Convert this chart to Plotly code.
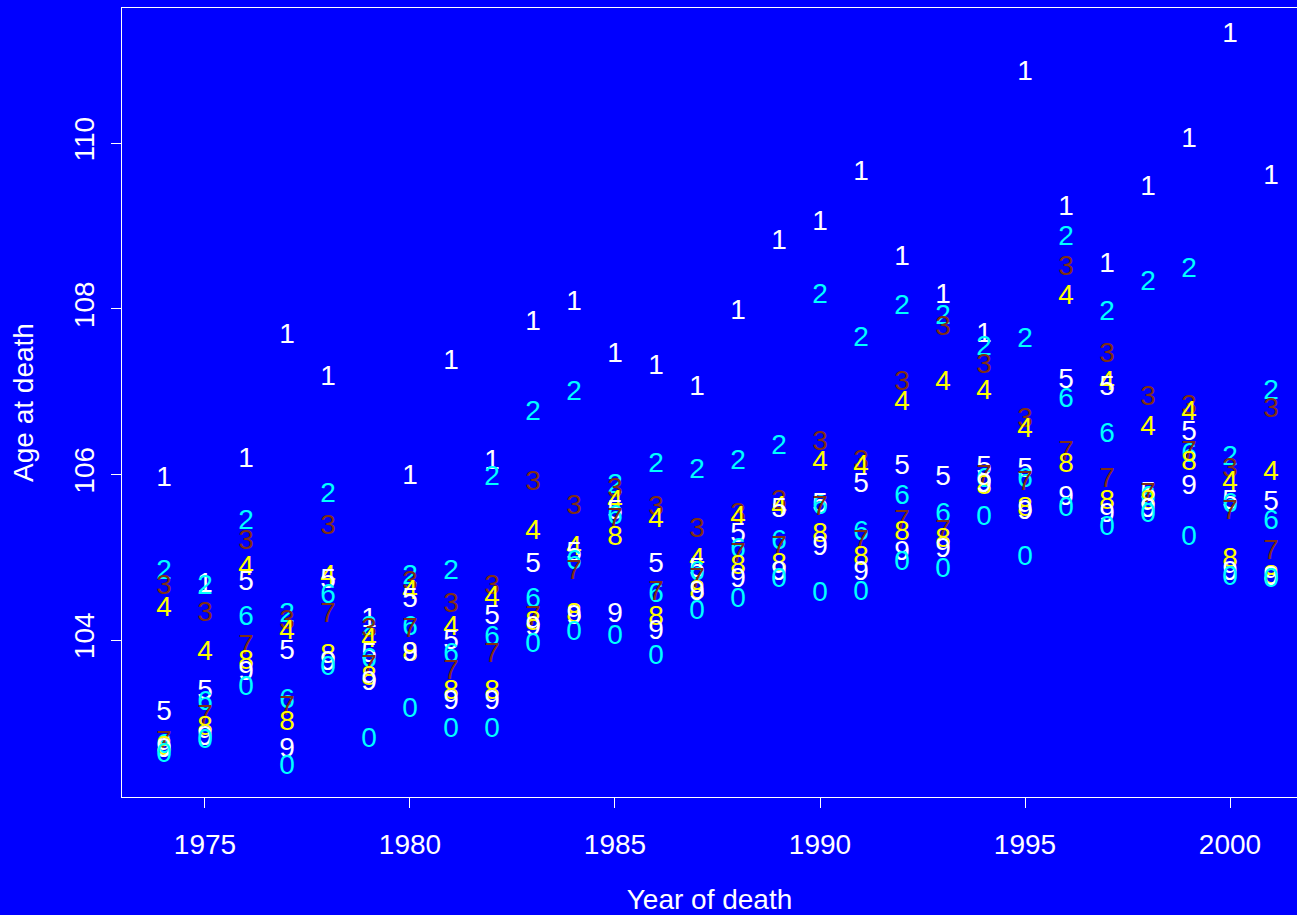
import plotly.graph_objects as go

years = list(range(1974, 2002))

s1 = [105.95, 104.66, 106.18, 107.67, 107.17, 104.24, 105.97, 107.36, 106.15, 107.83, 108.07, 107.44, 107.30, 107.05,
      107.96, 108.81, 109.04, 109.64, 108.62, 108.16, 107.69, 110.85, 109.22, 108.53, 109.46, 110.04, 111.31, 109.60]
s2 = [104.82, 104.64, 105.43, 104.30, 105.75, 104.15, 104.76, 104.82, 105.96, 106.74, 106.98, 105.86, 106.11, 106.04,
      106.15, 106.33, 108.16, 107.64, 108.02, 107.90, 107.53, 107.63, 108.86, 107.95, 108.31, 108.47, 106.20, 107.00]
s3 = [104.64, 104.32, 105.18, 104.22, 105.37, 104.12, 104.69, 104.42, 104.64, 105.90, 105.61, 105.81, 105.60, 105.33,
      105.51, 105.67, 106.38, 106.15, 107.11, 107.77, 107.31, 106.66, 108.50, 107.44, 106.92, 106.82, 106.05, 106.78]
s4 = [104.37, 103.84, 104.87, 104.10, 104.76, 104.00, 104.58, 104.15, 104.51, 105.31, 105.11, 105.67, 105.45, 104.97,
      105.47, 105.60, 106.14, 106.09, 106.86, 107.11, 107.00, 106.54, 108.15, 107.11, 106.56, 106.74, 105.90, 106.02]
s5 = [103.12, 103.37, 104.69, 103.85, 104.71, 103.82, 104.48, 103.98, 104.28, 104.91, 105.04, 105.55, 104.91, 104.85,
      105.27, 105.57, 105.63, 105.87, 106.09, 105.96, 106.08, 106.05, 107.13, 107.05, 105.77, 106.50, 105.67, 105.66]
s6 = [102.72, 103.24, 104.27, 103.26, 104.53, 103.76, 104.14, 103.82, 104.02, 104.48, 104.94, 105.49, 104.54, 104.81,
      105.09, 105.18, 105.61, 105.29, 105.73, 105.51, 105.93, 105.93, 106.90, 106.48, 105.72, 106.24, 105.63, 105.43]
s7 = [102.76, 103.07, 103.92, 103.18, 104.30, 103.67, 104.12, 103.61, 103.82, 104.27, 104.82, 105.45, 104.57, 104.73,
      105.03, 105.11, 105.60, 105.18, 105.43, 105.31, 105.97, 105.90, 106.26, 105.93, 105.75, 106.26, 105.55, 105.06]
s8 = [102.69, 102.94, 103.73, 103.00, 103.81, 103.54, 103.83, 103.37, 103.37, 104.21, 104.30, 105.23, 104.27, 104.58,
      104.88, 104.91, 105.27, 104.99, 105.29, 105.21, 105.85, 105.58, 106.11, 105.67, 105.67, 106.14, 104.97, 104.76]
s9 = [102.67, 102.82, 103.60, 102.67, 103.72, 103.48, 103.83, 103.25, 103.25, 104.15, 104.28, 104.30, 104.10, 104.57,
      104.73, 104.81, 105.11, 104.81, 105.05, 105.09, 105.87, 105.55, 105.72, 105.51, 105.57, 105.85, 104.81, 104.75]
s0 = [102.61, 102.78, 103.42, 102.47, 103.66, 102.79, 103.15, 102.91, 102.91, 103.94, 104.08, 104.04, 103.79, 104.34,
      104.48, 104.73, 104.56, 104.57, 104.93, 104.85, 105.47, 104.99, 105.58, 105.35, 105.51, 105.23, 104.75, 104.73]

series = [s1, s2, s3, s4, s5, s6, s7, s8, s9, s0]
labels = ["1", "2", "3", "4", "5", "6", "7", "8", "9", "0"]
palette = ["#FFFFFF", "#00FFFF", "#7F2F14", "#FFFF00"]

x_ticks = [1975, 1980, 1985, 1990, 1995, 2000]
y_ticks = [104, 106, 108, 110]

FONT = "Liberation Sans, Arial, Helvetica, sans-serif"
FS = 28

fig = go.Figure()
for i, (vals, lab) in enumerate(zip(series, labels)):
    fig.add_trace(go.Scatter(
        x=years, y=vals, mode="text", text=[lab] * len(years),
        textposition="middle center",
        textfont=dict(family=FONT, size=FS, color=palette[i % 4]),
        showlegend=False, hoverinfo="skip"))

fig.update_layout(
    width=1297, height=915,
    margin=dict(l=122, r=0, t=8, b=118),
    paper_bgcolor="#0000FF", plot_bgcolor="#0000FF",
    font=dict(family=FONT, size=FS, color="white"),
    xaxis=dict(range=[1972.976, 2001.634], tickvals=x_ticks, ticktext=[str(v) for v in x_ticks],
               showgrid=False, zeroline=False, showline=True, linecolor="white", linewidth=1,
               mirror=True, ticks="outside", ticklen=10, tickcolor="white",
               ticklabelstandoff=12,
               tickfont=dict(size=FS, color="white"),
               title=dict(text="Year of death", font=dict(size=FS, color="white"), standoff=30)),
    yaxis=dict(range=[102.103, 111.637], tickvals=y_ticks, ticktext=[str(v) for v in y_ticks],
               showgrid=False, zeroline=False, showline=True, linecolor="white", linewidth=1,
               mirror=False, ticks="outside", ticklen=10, tickcolor="white", tickangle=-90,
               ticklabelstandoff=6,
               tickfont=dict(size=FS, color="white"),
               title=dict(text="Age at death", font=dict(size=FS, color="white"), standoff=26)),
)

fig.write_html("out.html")
